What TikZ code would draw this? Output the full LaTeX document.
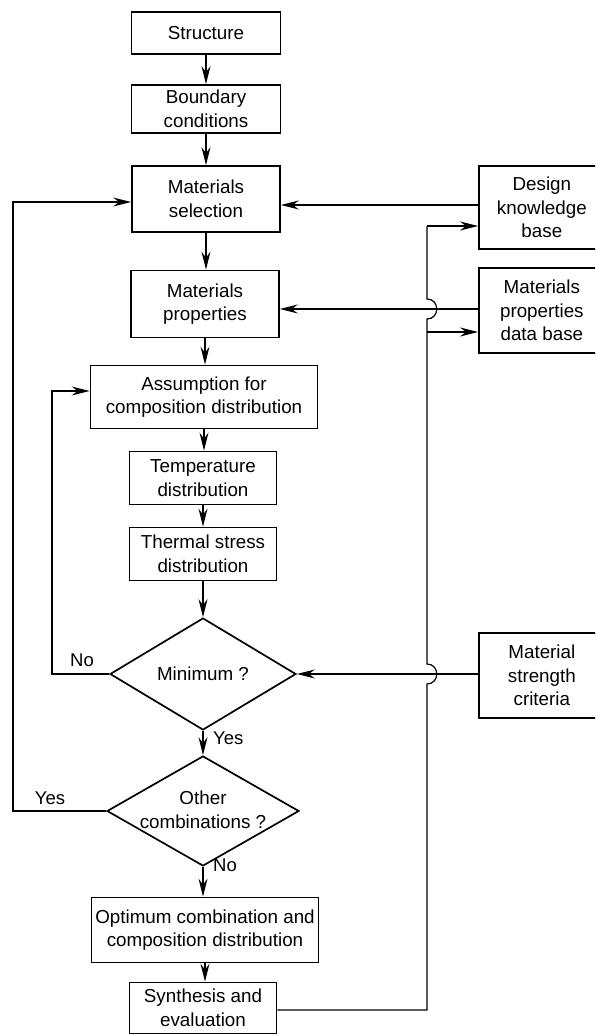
\documentclass[tikz,border=0pt]{standalone}
\usepackage{fontspec}
\setmainfont{Liberation Sans}
\usetikzlibrary{arrows.meta,shapes.geometric}
\begin{document}
\begin{tikzpicture}[x=1pt,y=-1pt,
  lbl/.style={font=\fontsize{18.8}{23.5}\selectfont, align=center, inner sep=0pt},
  box/.style={lbl, draw, line width=1.7pt},
  dia/.style={draw, diamond, line width=1.7pt, inner sep=0pt},
  conn/.style={line width=1.2pt},
  arr/.style={conn, -{Stealth[length=18pt,width=9pt,inset=6pt]}},
  tag/.style={font=\fontsize{18.5}{22}\selectfont, inner sep=0pt}
]
\path[use as bounding box] (0,0) rectangle (595,1035);
\clip (0,0) rectangle (595,1035);

% main column
\node[box, minimum width=149pt, minimum height=42pt] (st) at (206,33) {Structure};
\node[box, minimum width=149pt, minimum height=48pt] (bc) at (206,109) {Boundary\\conditions};
\node[box, minimum width=148pt, minimum height=66pt] (ms) at (206,199) {Materials\\selection};
\node[box, minimum width=148pt, minimum height=67pt] (mp) at (205,304) {Materials\\properties};
\node[box, minimum width=227pt, minimum height=63pt] (as) at (204,397) {Assumption for\\composition distribution};
\node[box, minimum width=147pt, minimum height=53pt] (td) at (203,478) {Temperature\\distribution};
\node[box, minimum width=147pt, minimum height=53pt] (ts) at (203,554) {Thermal stress\\distribution};
\node[dia, minimum width=186pt, minimum height=112pt] (mn) at (203,674) {};
\node[lbl] (mnt) at (mn) {Minimum ?};
\node[dia, minimum width=192pt, minimum height=110pt] (oc) at (203,811) {};
\node[lbl] (oct) at ([yshift=1pt]oc.center) {Other\\combinations ?};
\node[box, minimum width=227pt, minimum height=65pt] (op) at (205,930) {Optimum combination and\\composition distribution};
\node[box, minimum width=147pt, minimum height=51pt] (se) at (203,1008) {Synthesis and\\evaluation};

% right column (cut by the page edge)
\node[box, minimum width=126pt, minimum height=83pt, anchor=north west] (dk) at (478,165) {Design\\knowledge\\base};
\node[box, minimum width=126pt, minimum height=85pt, anchor=north west] (db) at (478,267) {Materials\\properties\\data base};
\node[box, minimum width=126pt, minimum height=85pt, anchor=north west] (sc) at (478,632) {Material\\strength\\criteria};

% main flow
\draw[arr] (st.south) -- (st.south |- bc.north);
\draw[arr] (bc.south) -- (bc.south |- ms.north);
\draw[arr] (ms.south) -- (ms.south |- mp.north);
\draw[arr] (mp.south) -- (mp.south |- as.north);
\draw[arr] (as.south) -- (as.south |- td.north);
\draw[arr] (td.south) -- (td.south |- ts.north);
\draw[arr] (ts.south) -- (ts.south |- mn.north);
\draw[arr] (mn.south) -- (oc.north);
\draw[arr] (oc.south) -- (oc.south |- op.north);
\draw[arr] (op.south) -- (op.south |- se.north);

% inputs from the right
\draw[arr] (dk.west |- 0,205) -- (ms.east |- 0,205);
\draw[arr] (db.west |- 0,309) -- (mp.east |- 0,309);
\draw[arr] (sc.west |- mn.east) -- (mn.east);

% feedback bus on the right
\coordinate (bb) at (427,1010);
\draw[conn] (se.east |- bb) -- (bb) -- (427,684)
  .. controls (440,684) and (440,664) .. (427,664) -- (427,319)
  .. controls (440,319) and (440,299) .. (427,299) -- (427,226);
\draw[arr] (427,226) -- (dk.west |- 0,226);
\draw[arr] (427,332) -- (db.west |- 0,332);

% loops on the left
\coordinate (nl) at (52,0);
\draw[arr] (mn.west) -- (nl |- mn.west) -- (nl |- 0,391) -- (as.west |- 0,391);
\coordinate (yl) at (13,0);
\draw[arr] (oc.west) -- (yl |- oc.west) -- (yl |- 0,202) -- (ms.west |- 0,202);

% labels
\node[tag, anchor=south] (lno1) at (82,667) {No};
\node[tag, anchor=west] (lye1) at (213,738) {Yes};
\node[tag, anchor=south] (lye2) at (50,805) {Yes};
\node[tag, anchor=west] (lno2) at (213,865) {No};
\end{tikzpicture}
\end{document}
